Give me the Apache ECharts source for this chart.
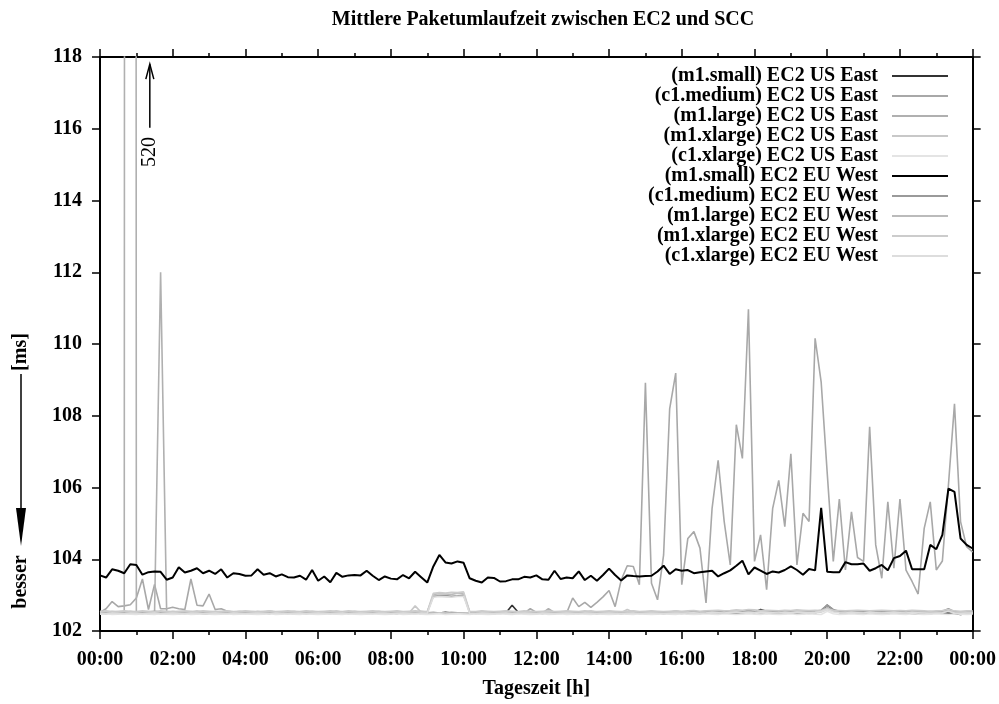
<!DOCTYPE html>
<html>
<head>
<meta charset="utf-8">
<script src="https://cdn.jsdelivr.net/npm/echarts@6/dist/echarts.min.js"></script>
<style>
html,body{margin:0;padding:0;background:#fff;}
#chart{width:999px;height:704px;}
</style>
</head>
<body>
<div id="chart"></div>
<script>
// ---- data (10-minute samples, 00:00 .. 24:00) ----
const STEP_HOURS = 10 / 60;
const chartTitle = 'Mittlere Paketumlaufzeit zwischen EC2 und SCC';
const xAxisTitle = 'Tageszeit [h]';
const xTickLabels = ['00:00','02:00','04:00','06:00','08:00','10:00','12:00','14:00','16:00','18:00','20:00','22:00','00:00'];
const seriesNames = [
  '(m1.small) EC2 US East','(c1.medium) EC2 US East','(m1.large) EC2 US East','(m1.xlarge) EC2 US East','(c1.xlarge) EC2 US East',
  '(m1.small) EC2 EU West','(c1.medium) EC2 EU West','(m1.large) EC2 EU West','(m1.xlarge) EC2 EU West','(c1.xlarge) EC2 EU West'
];

const usM1Small = [
102.50,102.49,102.51,102.50,102.52,102.50,102.49,102.51,102.50,102.52,102.51,102.50,
102.49,102.50,102.52,102.51,102.50,102.49,102.48,102.50,102.51,102.50,102.49,102.50,
102.51,102.50,102.52,102.50,102.49,102.53,102.52,102.50,102.49,102.50,102.51,102.50,
102.49,102.50,102.51,102.50,102.52,102.51,102.50,102.49,102.50,102.51,102.50,102.52,
102.50,102.49,102.51,102.50,102.50,102.49,102.50,102.51,102.50,102.52,102.50,102.51,
102.50,102.49,102.50,102.51,102.50,102.49,102.50,102.51,102.72,102.52,102.50,102.51,
102.50,102.49,102.50,102.52,102.51,102.50,102.49,102.50,102.51,102.50,102.49,102.50,
102.51,102.50,102.49,102.50,102.51,102.50,102.52,102.51,102.50,102.49,102.50,102.51,
102.50,102.49,102.50,102.52,102.51,102.50,102.49,102.50,102.52,102.51,102.50,102.53,
102.52,102.60,102.55,102.51,102.50,102.52,102.51,102.50,102.49,102.50,102.51,102.55,
102.72,102.58,102.52,102.50,102.51,102.50,102.49,102.50,102.51,102.50,102.49,102.50,
102.51,102.50,102.49,102.48,102.50,102.49,102.50,102.51,102.50,102.49,102.46,102.48,
102.50];

const usC1Medium = [
102.52,102.62,102.82,102.68,102.70,102.73,102.92,103.45,102.60,103.30,102.62,102.62,
102.66,102.62,102.60,103.45,102.72,102.70,103.03,102.60,102.62,102.55,102.53,102.52,
102.51,102.52,102.50,102.51,102.52,102.50,102.51,102.52,102.51,102.50,102.52,102.51,
102.50,102.51,102.52,102.50,102.51,102.52,102.51,102.50,102.51,102.52,102.50,102.51,
102.52,102.51,102.50,102.52,102.51,102.50,102.51,102.52,102.50,102.51,102.52,102.51,
102.50,102.51,102.52,102.50,102.51,102.52,102.51,102.50,102.52,102.51,102.50,102.62,
102.52,102.51,102.50,102.51,102.52,102.50,102.92,102.68,102.80,102.66,102.80,102.95,
103.13,102.68,103.42,103.82,103.80,103.29,108.92,103.33,102.87,104.12,108.19,109.19,
103.29,104.58,104.77,104.31,102.78,105.42,106.76,105.05,103.84,107.75,106.81,110.97,
103.94,104.68,103.15,105.42,106.20,104.91,106.94,103.84,105.28,105.05,110.16,108.94,
106.40,103.94,105.68,103.70,105.32,104.05,103.94,107.69,104.40,103.47,105.60,103.75,
105.68,103.70,103.38,103.03,104.86,105.60,103.70,103.95,106.07,108.33,105.05,104.35,
104.20];

const usM1Large = [
102.50,102.51,102.49,102.50,102.51,520.00,102.50,102.49,102.51,102.50,112.00,102.52,
102.50,102.51,102.49,102.50,102.52,102.51,102.50,102.49,102.51,102.50,102.49,102.50,
102.51,102.50,102.49,102.51,102.50,102.52,102.51,102.49,102.50,102.51,102.49,102.50,
102.52,102.50,102.49,102.51,102.50,102.49,102.51,102.50,102.52,102.50,102.49,102.51,
102.50,102.49,102.51,102.50,102.52,102.50,102.49,102.51,102.50,102.49,102.51,102.50,
102.49,102.51,102.50,102.52,102.51,102.49,102.50,102.51,102.50,102.52,102.50,102.49,
102.51,102.50,102.62,102.51,102.50,102.49,102.51,102.50,102.52,102.50,102.51,102.49,
102.50,102.52,102.50,102.49,102.51,102.50,102.52,102.51,102.49,102.50,102.51,102.50,
102.49,102.51,102.50,102.52,102.51,102.50,102.49,102.51,102.53,102.52,102.50,102.55,
102.53,102.51,102.50,102.52,102.51,102.49,102.50,102.52,102.51,102.50,102.52,102.56,
102.65,102.56,102.52,102.50,102.51,102.50,102.52,102.51,102.49,102.50,102.51,102.50,
102.49,102.51,102.50,102.52,102.50,102.49,102.51,102.50,102.60,102.51,102.50,102.49,
102.50];

const usM1Xlarge = [
102.48,102.50,102.49,102.51,102.50,102.48,102.49,102.50,102.52,102.50,102.49,102.51,
102.50,102.48,102.50,102.49,102.51,102.50,102.48,102.49,102.50,102.52,102.50,102.49,
102.50,102.48,102.49,102.51,102.50,102.48,102.49,102.50,102.51,102.49,102.48,102.50,
102.51,102.49,102.50,102.48,102.49,102.51,102.50,102.49,102.48,102.50,102.49,102.51,
102.50,102.52,102.49,102.50,102.70,102.52,102.50,102.49,102.51,102.50,102.48,102.49,
102.50,102.51,102.49,102.48,102.50,102.51,102.49,102.50,102.52,102.50,102.49,102.50,
102.48,102.50,102.51,102.49,102.50,102.52,102.50,102.49,102.51,102.50,102.49,102.52,
102.50,102.49,102.51,102.60,102.52,102.50,102.49,102.51,102.50,102.52,102.50,102.49,
102.51,102.50,102.49,102.52,102.50,102.51,102.49,102.50,102.52,102.55,102.53,102.51,
102.52,102.50,102.49,102.51,102.53,102.50,102.52,102.51,102.50,102.49,102.51,102.53,
102.60,102.55,102.52,102.50,102.51,102.49,102.50,102.52,102.50,102.49,102.50,102.51,
102.50,102.49,102.51,102.50,102.49,102.51,102.50,102.52,102.58,102.50,102.49,102.51,
102.50];

const usC1Xlarge = [
102.47,102.48,102.46,102.47,102.48,102.47,102.46,102.48,102.47,102.46,102.48,102.47,
102.46,102.47,102.48,102.46,102.47,102.48,102.47,102.46,102.47,102.48,102.46,102.47,
102.48,102.47,102.46,102.47,102.48,102.46,102.47,102.48,102.47,102.46,102.48,102.47,
102.46,102.47,102.48,102.47,102.46,102.48,102.47,102.46,102.47,102.48,102.47,102.46,
102.47,102.48,102.46,102.47,102.48,102.47,102.46,102.47,102.48,102.46,102.47,102.48,
102.47,102.46,102.48,102.47,102.46,102.47,102.48,102.47,102.46,102.48,102.47,102.46,
102.47,102.48,102.46,102.47,102.48,102.46,102.47,102.48,102.47,102.46,102.48,102.47,
102.46,102.47,102.48,102.47,102.46,102.48,102.47,102.46,102.47,102.48,102.47,102.46,
102.48,102.47,102.46,102.47,102.48,102.47,102.46,102.48,102.47,102.46,102.47,102.48,
102.47,102.46,102.48,102.47,102.46,102.47,102.48,102.46,102.47,102.48,102.47,102.46,
102.55,102.48,102.46,102.47,102.48,102.47,102.46,102.48,102.47,102.46,102.47,102.48,
102.47,102.46,102.48,102.47,102.46,102.47,102.48,102.47,102.46,102.48,102.47,102.46,
102.47];

const euM1Small = [
103.55,103.49,103.72,103.68,103.61,103.86,103.84,103.57,103.64,103.66,103.65,103.43,
103.49,103.78,103.63,103.68,103.75,103.61,103.68,103.59,103.72,103.49,103.61,103.59,
103.54,103.55,103.72,103.57,103.61,103.52,103.58,103.50,103.49,103.54,103.43,103.70,
103.40,103.52,103.36,103.62,103.51,103.55,103.56,103.55,103.68,103.54,103.42,103.52,
103.46,103.44,103.56,103.47,103.65,103.50,103.35,103.80,104.12,103.91,103.88,103.94,
103.90,103.47,103.40,103.35,103.49,103.48,103.38,103.39,103.44,103.44,103.51,103.49,
103.55,103.44,103.43,103.68,103.45,103.49,103.47,103.66,103.42,103.54,103.40,103.56,
103.74,103.56,103.41,103.55,103.53,103.52,103.53,103.54,103.66,103.82,103.59,103.72,
103.68,103.70,103.61,103.64,103.66,103.68,103.52,103.61,103.69,103.82,103.96,103.58,
103.77,103.68,103.59,103.66,103.63,103.70,103.80,103.70,103.57,103.73,103.69,105.43,
103.65,103.64,103.64,103.92,103.86,103.86,103.88,103.68,103.75,103.84,103.69,104.03,
104.09,104.24,103.72,103.72,103.72,104.40,104.28,104.68,105.97,105.88,104.58,104.40,
104.30];

const euC1Medium = [
102.53,102.52,102.54,102.53,102.52,102.54,102.53,102.52,102.53,102.55,102.53,102.52,
102.54,102.53,102.52,102.53,102.55,102.53,102.52,102.54,102.53,102.52,102.53,102.54,
102.53,102.52,102.54,102.53,102.55,102.53,102.52,102.53,102.54,102.53,102.52,102.54,
102.53,102.52,102.53,102.55,102.53,102.52,102.54,102.53,102.52,102.53,102.54,102.53,
102.52,102.54,102.53,102.52,102.53,102.54,102.53,102.97,102.98,102.99,102.97,102.98,
103.00,102.53,102.52,102.54,102.53,102.52,102.53,102.55,102.53,102.52,102.54,102.53,
102.52,102.53,102.54,102.53,102.52,102.54,102.53,102.52,102.53,102.55,102.53,102.52,
102.54,102.53,102.52,102.53,102.54,102.53,102.52,102.54,102.53,102.52,102.53,102.55,
102.53,102.52,102.54,102.53,102.55,102.56,102.54,102.53,102.55,102.56,102.54,102.57,
102.55,102.54,102.56,102.55,102.53,102.54,102.56,102.55,102.54,102.53,102.55,102.58,
102.72,102.60,102.55,102.54,102.53,102.55,102.54,102.53,102.55,102.54,102.53,102.54,
102.55,102.53,102.54,102.52,102.53,102.54,102.53,102.55,102.62,102.54,102.52,102.53,
102.54];

const euM1Large = [
102.51,102.50,102.52,102.51,102.50,102.52,102.51,102.50,102.51,102.52,102.50,102.51,
102.52,102.50,102.51,102.52,102.51,102.50,102.52,102.51,102.50,102.51,102.52,102.50,
102.51,102.52,102.50,102.51,102.52,102.51,102.50,102.52,102.51,102.50,102.51,102.52,
102.50,102.51,102.52,102.51,102.50,102.52,102.51,102.50,102.51,102.52,102.50,102.51,
102.52,102.51,102.50,102.52,102.51,102.50,102.51,103.02,103.04,103.03,103.02,103.05,
103.06,102.51,102.50,102.52,102.51,102.50,102.52,102.51,102.50,102.51,102.52,102.51,
102.50,102.52,102.51,102.50,102.51,102.52,102.50,102.51,102.52,102.51,102.50,102.52,
102.51,102.50,102.52,102.51,102.50,102.51,102.52,102.50,102.51,102.52,102.51,102.50,
102.52,102.51,102.53,102.52,102.51,102.53,102.52,102.51,102.53,102.54,102.52,102.53,
102.52,102.54,102.53,102.52,102.51,102.53,102.52,102.54,102.53,102.52,102.53,102.55,
102.64,102.56,102.53,102.52,102.53,102.52,102.51,102.53,102.52,102.51,102.52,102.53,
102.52,102.51,102.53,102.52,102.51,102.52,102.53,102.52,102.56,102.52,102.51,102.52,
102.52];

const euM1Xlarge = [
102.55,102.56,102.54,102.55,102.56,102.55,102.54,102.56,102.55,102.54,102.56,102.55,
102.54,102.55,102.56,102.55,102.54,102.56,102.55,102.54,102.55,102.56,102.54,102.55,
102.56,102.55,102.54,102.55,102.56,102.54,102.55,102.56,102.55,102.54,102.56,102.55,
102.54,102.55,102.56,102.55,102.54,102.56,102.55,102.54,102.55,102.56,102.55,102.54,
102.55,102.56,102.54,102.55,102.56,102.55,102.54,103.05,103.07,103.06,103.08,103.07,
103.09,102.55,102.54,102.56,102.55,102.54,102.55,102.56,102.55,102.54,102.56,102.55,
102.54,102.55,102.56,102.54,102.55,102.56,102.55,102.54,102.56,102.55,102.54,102.55,
102.56,102.55,102.54,102.55,102.56,102.54,102.55,102.56,102.55,102.54,102.55,102.56,
102.55,102.56,102.57,102.55,102.56,102.57,102.58,102.56,102.57,102.59,102.58,102.60,
102.59,102.57,102.58,102.57,102.56,102.58,102.57,102.59,102.58,102.57,102.58,102.57,
102.62,102.58,102.57,102.56,102.57,102.58,102.57,102.56,102.57,102.58,102.57,102.56,
102.57,102.56,102.58,102.57,102.56,102.55,102.56,102.57,102.60,102.56,102.55,102.56,
102.56];

const euC1Xlarge = [
102.49,102.48,102.50,102.49,102.48,102.50,102.49,102.48,102.49,102.50,102.48,102.49,
102.50,102.49,102.48,102.50,102.49,102.48,102.49,102.50,102.49,102.48,102.50,102.49,
102.48,102.49,102.50,102.49,102.48,102.50,102.49,102.48,102.49,102.50,102.48,102.49,
102.50,102.49,102.48,102.49,102.50,102.48,102.49,102.50,102.49,102.48,102.50,102.49,
102.48,102.49,102.50,102.49,102.48,102.50,102.49,102.94,102.96,102.95,102.94,102.96,
102.97,102.49,102.48,102.50,102.49,102.48,102.49,102.50,102.48,102.49,102.50,102.49,
102.48,102.50,102.49,102.48,102.49,102.50,102.49,102.48,102.50,102.49,102.48,102.49,
102.50,102.49,102.48,102.49,102.50,102.48,102.49,102.50,102.49,102.48,102.49,102.50,
102.49,102.50,102.51,102.49,102.50,102.52,102.51,102.50,102.52,102.53,102.51,102.52,
102.51,102.53,102.52,102.51,102.50,102.52,102.51,102.53,102.52,102.51,102.52,102.54,
102.60,102.53,102.51,102.50,102.52,102.51,102.50,102.52,102.51,102.50,102.51,102.52,
102.51,102.50,102.52,102.51,102.50,102.49,102.50,102.51,102.55,102.50,102.49,102.50,
102.50];

// annotation: off-scale peak value
const peakLabel = '520';
const peakArrowHour = 1.37;
const peakArrowFrom = 116.03;
const peakArrowTo = 117.80;
const peakLabelValue = 115.35;

// ---- styles ----
const allValues = [usM1Small, usC1Medium, usM1Large, usM1Xlarge, usC1Xlarge, euM1Small, euC1Medium, euM1Large, euM1Xlarge, euC1Xlarge];
const colors = ['#333333','#a8a8a8','#b0b0b0','#c8c8c8','#e4e4e4','#000000','#9a9a9a','#bbbbbb','#cccccc','#dddddd'];
const widths = [1.6,1.6,1.6,1.6,1.6,2,1.6,1.6,1.6,1.6];
const FONT = "'Liberation Serif','Times New Roman',serif";

const chart = echarts.init(document.getElementById('chart'), null, {renderer: 'canvas'});

const series = allValues.map((vals, s) => ({
  name: seriesNames[s],
  type: 'line',
  data: vals.map((v, i) => [i * STEP_HOURS, v]),
  showSymbol: false,
  symbol: 'none',
  clip: true,
  lineStyle: {color: colors[s], width: widths[s]},
  itemStyle: {color: colors[s]},
  emphasis: {disabled: true},
  z: 2
}));

const xBase = {
  type: 'value', min: 0, max: 24, interval: 2,
  splitLine: {show: false},
  axisLine: {lineStyle: {color: '#000', width: 2}},
  axisTick: {length: 8, lineStyle: {color: '#000', width: 1.5}},
  minorTick: {show: true, splitNumber: 2, length: 4, lineStyle: {color: '#000', width: 1.5}}
};
const yBase = {
  type: 'value', min: 102, max: 118, interval: 2,
  splitLine: {show: false},
  axisLine: {onZero: false, lineStyle: {color: '#000', width: 2}},
  axisTick: {length: 8, lineStyle: {color: '#000', width: 1.5}}
};

chart.setOption({
  animation: false,
  backgroundColor: '#fff',
  title: {
    text: chartTitle, left: 538, textAlign: 'center', top: 5,
    textStyle: {fontFamily: FONT, fontWeight: 'bold', fontSize: 20, color: '#000'}
  },
  grid: {left: 100, right: 22, top: 57, bottom: 71, containLabel: false},
  legend: {
    orient: 'vertical', right: 51, top: 66, align: 'right',
    itemWidth: 56, itemHeight: 2, itemGap: 0, padding: 0,
    icon: 'rect', selectedMode: false,
    data: seriesNames.map((n, s) => ({name: n, itemStyle: {color: colors[s]}})),
    textStyle: {fontFamily: FONT, fontWeight: 'bold', fontSize: 20, lineHeight: 20, color: '#000', padding: [0, 9, 0, 0]}
  },
  xAxis: [
    Object.assign({}, xBase, {
      position: 'bottom',
      name: xAxisTitle, nameLocation: 'middle', nameGap: 48,
      nameTextStyle: {fontFamily: FONT, fontWeight: 'bold', fontSize: 20, color: '#000'},
      axisLabel: {margin: 19, fontFamily: FONT, fontWeight: 'bold', fontSize: 20, color: '#000',
        formatter: v => xTickLabels[Math.round(v / 2)]}
    }),
    Object.assign({}, xBase, {position: 'top', axisLabel: {show: false}})
  ],
  yAxis: [
    Object.assign({}, yBase, {
      position: 'left',
      axisLabel: {margin: 18, fontFamily: FONT, fontWeight: 'bold', fontSize: 20, color: '#000'}
    }),
    Object.assign({}, yBase, {position: 'right', axisLabel: {show: false}})
  ],
  series: series
});

// annotations placed via the axes' own scale
const pFrom = chart.convertToPixel({gridIndex: 0}, [peakArrowHour, peakArrowFrom]);
const pTo = chart.convertToPixel({gridIndex: 0}, [peakArrowHour, peakArrowTo]);
const pLab = chart.convertToPixel({gridIndex: 0}, [peakArrowHour, peakLabelValue]);

chart.setOption({
  graphic: [
    {type: 'line', shape: {x1: pFrom[0], y1: pFrom[1], x2: pTo[0], y2: pTo[1]}, style: {stroke: '#000', lineWidth: 1.5}, z: 10},
    {type: 'polyline', shape: {points: [[pTo[0] - 4, pTo[1] + 15], [pTo[0], pTo[1]], [pTo[0] + 4, pTo[1] + 15]]}, style: {stroke: '#000', lineWidth: 1.5, fill: null}, z: 10},
    {type: 'text', x: pLab[0], y: pLab[1], rotation: Math.PI / 2,
      style: {text: peakLabel, font: "20px 'Liberation Serif'", fill: '#000', align: 'center', verticalAlign: 'middle'}, z: 10},
    // y-axis title: "[ms]" and "besser" with arrow
    {type: 'text', x: 21, y: 352, rotation: Math.PI / 2,
      style: {text: '[ms]', font: "bold 20px 'Liberation Serif'", fill: '#000', align: 'center', verticalAlign: 'middle'}},
    {type: 'line', shape: {x1: 21, y1: 374, x2: 21, y2: 515}, style: {stroke: '#000', lineWidth: 1.5}},
    {type: 'polygon', shape: {points: [[16, 508], [26, 508], [21, 546]]}, style: {fill: '#000'}},
    {type: 'text', x: 21, y: 582, rotation: Math.PI / 2,
      style: {text: 'besser', font: "bold 20px 'Liberation Serif'", fill: '#000', align: 'center', verticalAlign: 'middle'}}
  ]
});
</script>
</body>
</html>
